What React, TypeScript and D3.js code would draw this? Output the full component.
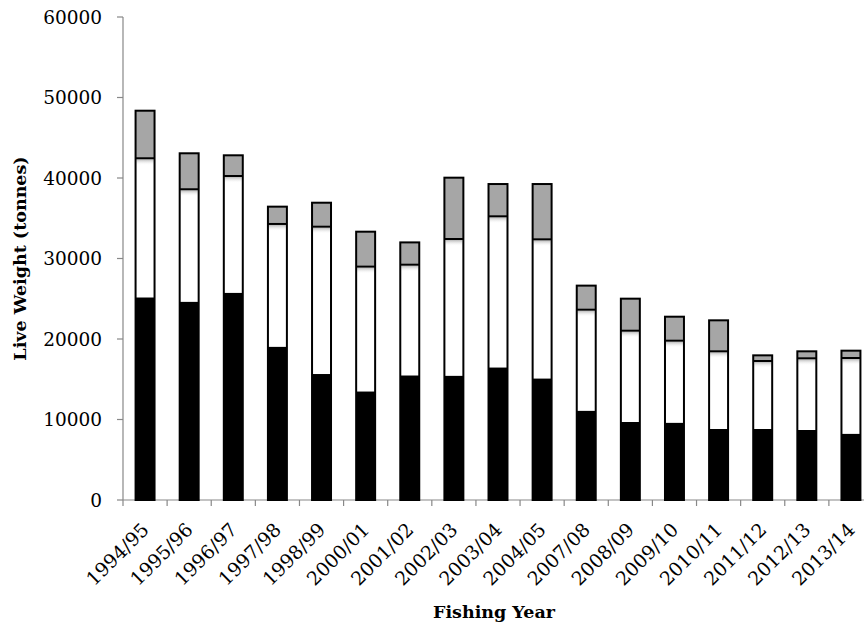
import React from "react";
import * as d3 from "d3";

const categories = ["1994/95","1995/96","1996/97","1997/98","1998/99","2000/01","2001/02","2002/03","2003/04","2004/05","2007/08","2008/09","2009/10","2010/11","2011/12","2012/13","2013/14"];
// cumulative tops
const blackTop = [25180,24640,25750,19050,15650,13500,15490,15450,16480,15110,11100,9690,9610,8820,8820,8700,8240];
const whiteTop = [42450,38600,40250,34290,33950,28990,29230,32420,35240,32380,23640,21030,19790,18470,17270,17600,17640];
const grayTop  = [48360,43070,42820,36440,36930,33330,32000,40040,39250,39250,26630,25010,22770,22320,17970,18470,18550];
const yTicks = [0,10000,20000,30000,40000,50000,60000];

const W = 864, H = 628;
const left = 123, right = 873, top = 17, bottom = 500;

export default function App() {
  const x = d3.scaleBand<string>().domain(categories).range([left, right]).paddingInner(0.57).paddingOuter(0.285);
  const step = x.step();
  const y = d3.scaleLinear().domain([0, 60000]).range([bottom, top]);
  const bw = x.bandwidth();
  const font = "'DejaVu Serif', serif";
  return (
    <svg width={W} height={H} style={{ position: "absolute", left: 0, top: 0, background: "#fff" }}>
      <defs>
        <linearGradient id="shadow" x1="0" y1="0" x2="0" y2="1">
          <stop offset="0" stopColor="#999" stopOpacity="0.7" />
          <stop offset="1" stopColor="#fff" stopOpacity="0" />
        </linearGradient>
      </defs>
      <line x1={left} y1={top} x2={left} y2={bottom} stroke="#888" strokeWidth={1.2} />
      <line x1={left} y1={bottom} x2={W} y2={bottom} stroke="#888" strokeWidth={1.2} />
      {yTicks.map((t) => (
        <g key={t}>
          <line x1={left - 6} x2={left} y1={y(t)} y2={y(t)} stroke="#888" strokeWidth={1.2} />
          <text x={left - 21} y={y(t)} dy="0.36em" textAnchor="end" fontFamily={font} fontSize={18.5} fill="#000">{t}</text>
        </g>
      ))}
      {d3.range(categories.length + 1).map((i) => (
        <line key={i} x1={left + i * step} x2={left + i * step} y1={bottom} y2={bottom + 6} stroke="#888" strokeWidth={1.2} />
      ))}
      {categories.map((c, i) => {
        const bx = x(c)!;
        return (
          <g key={c}>
            <rect x={bx} y={y(blackTop[i])} width={bw} height={y(0) - y(blackTop[i])} fill="#000" />
            <rect x={bx} y={y(whiteTop[i])} width={bw} height={y(blackTop[i]) - y(whiteTop[i])} fill="#fff" />
            <rect x={bx + 1} y={y(whiteTop[i]) + 1} width={bw - 2} height={Math.min(6, y(blackTop[i]) - y(whiteTop[i]))} fill="url(#shadow)" />
            <rect x={bx} y={y(grayTop[i])} width={bw} height={y(whiteTop[i]) - y(grayTop[i])} fill="#a6a6a6" />
            <rect x={bx} y={y(grayTop[i])} width={bw} height={y(0) - y(grayTop[i])} fill="none" stroke="#000" strokeWidth={2} />
            <line x1={bx} x2={bx + bw} y1={y(whiteTop[i])} y2={y(whiteTop[i])} stroke="#000" strokeWidth={2} />
          </g>
        );
      })}
      {categories.map((c) => {
        const cx = x(c)! + bw / 2;
        return (
          <text key={c} transform={`translate(${cx + 5},${bottom + 31}) rotate(-45)`} textAnchor="end" fontFamily={font} fontSize={19} fill="#000">{c}</text>
        );
      })}
      <text transform={`translate(26,${(top + bottom) / 2}) rotate(-90)`} textAnchor="middle" fontFamily={font} fontWeight="bold" fontSize={17.5} fill="#000">Live Weight (tonnes)</text>
      <text x={494} y={618} textAnchor="middle" fontFamily={font} fontWeight="bold" fontSize={17.5} fill="#000">Fishing Year</text>
    </svg>
  );
}
